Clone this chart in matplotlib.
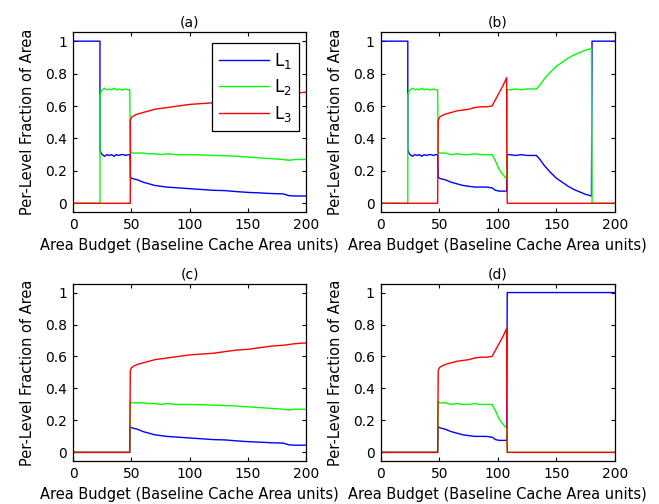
import matplotlib
matplotlib.use('Agg')
import matplotlib.pyplot as plt

plt.rcParams['font.family'] = ['DejaVu Sans']
plt.rcParams['mathtext.fontset'] = 'dejavusans'

# --- data --------------------------------------------------------------
# start segment (x 0..23) and the 23..49 plateau used by panels (a) and (b)
x_start = [0, 23]
x_mid = [23, 24, 25, 27, 29, 31, 33, 35, 37, 39, 41, 43, 45, 47, 48.5]
l1_mid = [0.33, 0.31, 0.30, 0.29, 0.30, 0.295, 0.30, 0.29, 0.30, 0.295, 0.30, 0.30, 0.295, 0.30, 0.30]
l2_mid = [0.67, 0.69, 0.70, 0.71, 0.70, 0.705, 0.70, 0.71, 0.70, 0.705, 0.70, 0.70, 0.705, 0.70, 0.70]

# long tail (x 49..200) used by panels (a) and (c)
x_tail = [49, 50, 52, 55, 60, 65, 70, 75, 80, 90, 100, 110, 120, 130, 140, 150, 160, 170, 180, 185, 190, 200]
l1_tail = [0.16, 0.155, 0.15, 0.145, 0.13, 0.12, 0.11, 0.105, 0.10, 0.095, 0.09, 0.085, 0.08, 0.078,
           0.072, 0.067, 0.064, 0.06, 0.058, 0.047, 0.045, 0.045]
l2_tail = [0.32, 0.31, 0.31, 0.31, 0.31, 0.305, 0.305, 0.30, 0.305, 0.30, 0.30, 0.298, 0.295, 0.293,
           0.29, 0.285, 0.28, 0.275, 0.27, 0.265, 0.27, 0.27]
l3_tail = [0.51, 0.53, 0.54, 0.55, 0.56, 0.57, 0.58, 0.585, 0.59, 0.60, 0.61, 0.615, 0.62, 0.63,
           0.64, 0.645, 0.655, 0.665, 0.67, 0.675, 0.68, 0.685]

# short segment (x 49..107.5) used by panels (b) and (d)
x_short = [49, 50, 52, 55, 60, 65, 70, 75, 80, 85, 90, 95, 98, 101, 104, 107.5]
l1_short = [0.16, 0.155, 0.15, 0.145, 0.13, 0.12, 0.11, 0.105, 0.10, 0.10, 0.10, 0.095, 0.08, 0.075, 0.075, 0.075]
l2_short = [0.32, 0.31, 0.31, 0.31, 0.30, 0.305, 0.30, 0.30, 0.305, 0.30, 0.30, 0.30, 0.26, 0.21, 0.18, 0.15]
l3_short = [0.51, 0.53, 0.54, 0.55, 0.56, 0.57, 0.575, 0.58, 0.59, 0.595, 0.595, 0.60, 0.64, 0.68, 0.72, 0.775]

# panel (b) second regime (x 108..180)
x_late = [108, 110, 115, 120, 125, 130, 133, 136, 140, 145, 150, 155, 160, 165, 170, 175, 180]
l1_late = [0.30, 0.30, 0.295, 0.30, 0.295, 0.295, 0.295, 0.27, 0.23, 0.19, 0.155, 0.13, 0.105, 0.085, 0.07, 0.055, 0.045]
l2_late = [0.70, 0.70, 0.705, 0.70, 0.705, 0.705, 0.705, 0.73, 0.77, 0.81, 0.845, 0.87, 0.895, 0.915, 0.93, 0.945, 0.955]

x_ticks = [0, 50, 100, 150, 200]
y_ticks = [0, 0.2, 0.4, 0.6, 0.8, 1]
y_ticklabels = ['0', '0.2', '0.4', '0.6', '0.8', '1']
panel_titles = ['(a)', '(b)', '(c)', '(d)']
xlabel = 'Area Budget (Baseline Cache Area units)'
ylabel = 'Per-Level Fraction of Area'


def series_a():
    x = x_start + x_mid + [49] + x_tail
    l1 = [1, 1] + l1_mid + [0.25] + l1_tail
    l2 = [0, 0] + l2_mid + [0.32] + l2_tail
    l3 = [0, 0] + [0] * len(x_mid) + [0] + l3_tail
    return (x, l1), (x, l2), (x, l3)


def series_b():
    x = x_start + x_mid + x_short + x_late + [180.5, 200]
    l1 = [1, 1] + l1_mid + l1_short + l1_late + [1, 1]
    l2 = [0, 0] + l2_mid + l2_short + l2_late + [0, 0]
    x3 = x_start + x_mid + x_short + [107.6, 108, 200]
    l3 = [0, 0] + [0] * len(x_mid) + l3_short + [0.385, 0, 0]
    return (x, l1), (x, l2), (x3, l3)


def series_c():
    x = [0, 48.5] + x_tail
    l1 = [0, 0] + l1_tail
    l2 = [0, 0] + l2_tail
    l3 = [0, 0] + l3_tail
    return (x, l1), (x, l2), (x, l3)


def series_d():
    x = [0, 48.5] + x_short + [108, 200]
    l1 = [0, 0] + l1_short + [1, 1]
    l2 = [0, 0] + l2_short + [0, 0]
    x3 = [0, 48.5] + x_short + [107.6, 108, 200]
    l3 = [0, 0] + l3_short + [0.385, 0, 0]
    return (x, l1), (x, l2), (x3, l3)


fig = plt.figure(figsize=(6.59, 5.04), dpi=100)
positions = [
    [0.111, 0.579, 0.354, 0.357],
    [0.578, 0.579, 0.355, 0.357],
    [0.111, 0.085, 0.354, 0.352],
    [0.578, 0.085, 0.355, 0.352],
]

colors = ['#0000ff', '#00ff00', '#ff0000']
labels = ['L$_1$', 'L$_2$', 'L$_3$']
data = [series_a(), series_b(), series_c(), series_d()]

for i, pos in enumerate(positions):
    ax = fig.add_axes(pos)
    for (x, y), c, lab in zip(data[i], colors, labels):
        ax.plot(x, y, color=c, linewidth=1.0, label=lab)
    ax.set_xlim(0, 200)
    ax.set_ylim(-0.055, 1.055)
    ax.set_xticks(x_ticks)
    ax.set_yticks(y_ticks)
    ax.set_yticklabels(y_ticklabels)
    ax.tick_params(direction='in', length=3, width=0.8, top=True, right=True,
                   labelsize=10, pad=4.5)
    for s in ax.spines.values():
        s.set_linewidth(0.9)
    ax.set_title(panel_titles[i], fontsize=10, pad=4)
    ax.set_xlabel(xlabel, fontsize=10.5, labelpad=4)
    ax.set_ylabel(ylabel, fontsize=10.5, labelpad=7)
    if i == 0:
        leg = ax.legend(loc='upper right', fontsize=12, handlelength=3.0,
                        handletextpad=0.3, labelspacing=0.4, borderpad=0.45,
                        borderaxespad=0, fancybox=False, framealpha=1,
                        edgecolor='black', bbox_to_anchor=(0.97, 0.94))
        leg.get_frame().set_linewidth(0.9)

fig.savefig('out.png', dpi=100)
